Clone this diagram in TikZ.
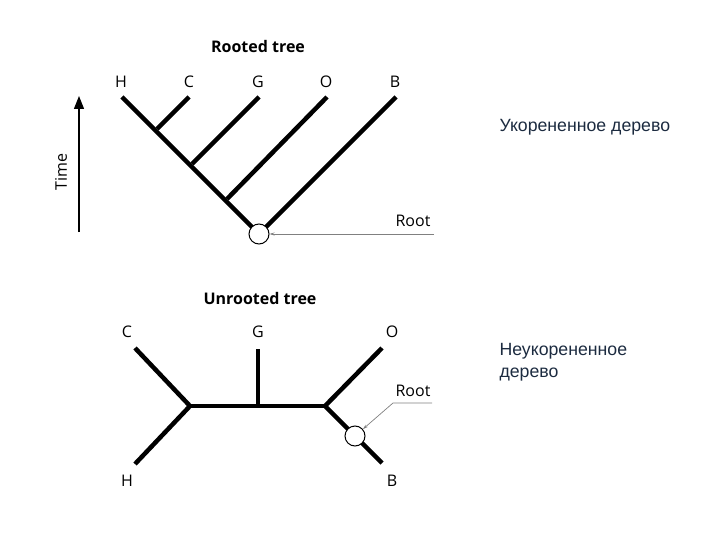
\documentclass[tikz,border=0pt]{standalone}
\usepackage{fontspec}
\setmainfont{Open Sans}
\newfontfamily\rufont{Liberation Sans}
\usetikzlibrary{arrows.meta}
\definecolor{rutext}{HTML}{1C2B40}
\tikzset{
  branch/.style={line width=4.5pt},
  leaf/.style={font=\fontsize{16}{19}\selectfont},
  title/.style={font=\bfseries\fontsize{16}{19}\selectfont},
  rootmark/.style={circle,draw,fill=white,line width=1pt,minimum size=20pt,inner sep=0pt},
  pointer/.style={draw=gray,line width=0.7pt,-{Stealth[length=5pt,width=3pt]}},
  rulabel/.style={font=\rufont\fontsize{17.7}{22}\selectfont,text=rutext,anchor=west,align=left}
}
\begin{document}
\begin{tikzpicture}[x=1pt,y=-1pt]
  \useasboundingbox (0,0) rectangle (720,540);
  % rooted tree
  \node[title] (rtitle) at (258,47) {Rooted tree};
  \node[leaf] (lH) at (121,82) {H};
  \node[leaf] (lC) at (189,82) {C};
  \node[leaf] (lG) at (258,82) {G};
  \node[leaf] (lO) at (326,82) {O};
  \node[leaf] (lB) at (395,82) {B};
  \coordinate (tH) at (122,97);
  \coordinate (tC) at (189,97);
  \coordinate (tG) at (259,97);
  \coordinate (tO) at (327,97);
  \coordinate (tB) at (396,97);
  \coordinate (jC) at (157,129);
  \coordinate (jG) at (192,164);
  \coordinate (jO) at (227,199);
  \coordinate (rc) at (259,234);
  \draw[branch] (tH) -- (rc);
  \draw[branch] (tB) -- (rc);
  \draw[branch] (tC) -- (jC);
  \draw[branch] (tG) -- (jG);
  \draw[branch] (tO) -- (jO);
  \node[rootmark] (rt) at (rc) {};
  \node[leaf] (rlab) at (413,221) {Root};
  \coordinate (rp) at (434,234);
  \draw[pointer] (rp) -- (rt);
  % time axis
  \coordinate (t0) at (79,232);
  \coordinate (t1) at (79,96);
  \draw[line width=1.2pt,-{Triangle[length=13pt,width=10pt]}] (t0) -- (t1);
  \node[leaf,rotate=90] (time) at (61,172) {Time};
  % unrooted tree
  \node[title] (utitle) at (260,298) {Unrooted tree};
  \node[leaf] (uC) at (127,332) {C};
  \node[leaf] (uG) at (258,332) {G};
  \node[leaf] (uO) at (392,332) {O};
  \node[leaf] (uH) at (127,481) {H};
  \node[leaf] (uB) at (392,481) {B};
  \coordinate (eC) at (135,348);
  \coordinate (eH) at (135,464);
  \coordinate (eG) at (258,349);
  \coordinate (eO) at (382,348);
  \coordinate (eB) at (382,463);
  \coordinate (nL) at (190,406);
  \coordinate (nG) at (258,406);
  \coordinate (nR) at (325,406);
  \draw[branch] (eC) -- (nL) -- (eH);
  \draw[branch] (nL) -- (nR);
  \draw[branch] (eG) -- (nG);
  \draw[branch] (eO) -- (nR) -- (eB);
  \node[rootmark] (ur) at (355,436) {};
  \node[leaf] (urlab) at (413,391) {Root};
  \coordinate (up0) at (432,403);
  \coordinate (up1) at (393,403);
  \draw[pointer] (up0) -- (up1) -- (ur);
  % russian captions
  \node[rulabel] (rucap1) at (496,127) {Укорененное дерево};
  \node[rulabel] (rucap2) at (496,362) {Неукорененное\\дерево};
\end{tikzpicture}
\end{document}
